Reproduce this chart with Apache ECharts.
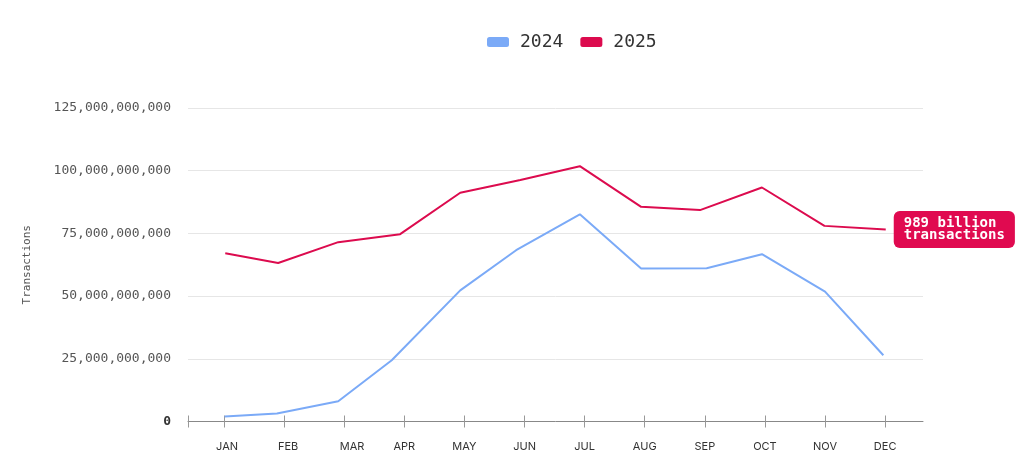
<!DOCTYPE html>
<html>
<head>
<meta charset="utf-8">
<script src="https://cdn.jsdelivr.net/npm/echarts@6/dist/echarts.min.js"></script>
<style>html,body{margin:0;padding:0;background:#fff;}#c{width:1021px;height:461px;}</style>
</head>
<body>
<div id="c"></div>
<script>
const months = ['JAN','FEB','MAR','APR','MAY','JUN','JUL','AUG','SEP','OCT','NOV','DEC'];
// x positions (month index, fractional)
const x2024 = [0.01, 0.88, 1.90, 2.79, 3.93, 4.86, 5.92, 6.94, 8.03, 8.95, 10.00, 10.97];
const x2025 = [0.02, 0.90, 1.90, 2.93, 3.93, 4.93, 5.92, 6.94, 7.92, 8.95, 9.99, 11.01];
const v2024 = [2.0e9, 3.2e9, 8.1e9, 24.4e9, 52.3e9, 68.3e9, 82.6e9, 61.0e9, 61.1e9, 66.7e9, 51.8e9, 26.4e9];
const v2025 = [67.1e9, 63.2e9, 71.5e9, 74.7e9, 91.2e9, 96.3e9, 101.8e9, 85.6e9, 84.3e9, 93.3e9, 78.0e9, 76.6e9];
const yTicks = [0, 25e9, 50e9, 75e9, 100e9, 125e9];
const labelPos = [0.05, 1.065, 2.13, 3, 4, 5, 6, 7, 8, 9, 10, 11];
const tickPos = [-0.6, 0, 1, 2, 3, 4, 5, 6, 7, 8, 9, 10, 11];
const endText = '989 billion\ntransactions';

const mono = '"DejaVu Sans Mono", "Liberation Mono", monospace';
const BLUE = '#7BAAF7', RED = '#DC0B4E';

const chart = echarts.init(document.getElementById('c'));
const fmt = v => v.toLocaleString('en-US');
chart.setOption({
  animation: false,
  legend: {
    top: 28, left: 482,
    icon: 'roundRect', itemWidth: 22, itemHeight: 10, itemGap: 17,
    textStyle: { fontFamily: mono, fontSize: 18, color: '#333', padding: [0, 0, 0, 6] },
    data: ['2024', '2025']
  },
  grid: { left: 188, right: 98, top: 108, bottom: 39.5, containLabel: false },
  xAxis: [{
    type: 'value', min: -0.6, max: 11.63,
    splitLine: { show: false },
    axisLine: { show: true, lineStyle: { color: '#888', width: 1 } },
    axisTick: { show: true, length: 6, customValues: tickPos, lineStyle: { color: '#999' } },
    axisLabel: {
      customValues: labelPos, margin: 20,
      formatter: v => months[Math.round(v)],
      fontFamily: 'Inter, Roboto, sans-serif', fontSize: 11, color: '#333'
    }
  }, {
    type: 'value', min: -0.6, max: 11.63, position: 'bottom',
    splitLine: { show: false },
    axisLine: { show: false },
    axisTick: { show: true, inside: true, length: 6, customValues: tickPos, lineStyle: { color: '#999' } },
    axisLabel: { show: false }
  }],
  yAxis: {
    type: 'value', min: 0, max: 125e9, interval: 25e9,
    name: 'Transactions', nameLocation: 'middle', nameGap: 155, nameRotate: 90,
    nameTextStyle: { fontFamily: mono, fontSize: 11, color: '#555' },
    axisLine: { show: false }, axisTick: { show: false },
    splitLine: { lineStyle: { color: '#e6e6e6', width: 1 } },
    axisLabel: {
      margin: 17, fontFamily: mono, fontSize: 13, color: '#555',
      formatter: v => v === 0 ? '{z|0}' : fmt(v),
      rich: { z: { fontFamily: mono, fontSize: 13, fontWeight: 'bold', color: '#333' } }
    }
  },
  series: [{
    name: '2024', type: 'line', showSymbol: false, symbol: 'none',
    color: BLUE, lineStyle: { width: 2, color: BLUE },
    data: v2024.map((v, i) => [x2024[i], v])
  }, {
    name: '2025', type: 'line', showSymbol: false, symbol: 'none',
    color: RED, lineStyle: { width: 2, color: RED },
    data: v2025.map((v, i) => [x2025[i], v]),
    endLabel: {
      show: true, formatter: endText, distance: 8,
      backgroundColor: '#E00A50', borderRadius: 6, padding: [6, 10, 6, 10],
      color: '#fff', fontFamily: mono, fontWeight: 'bold', fontSize: 14, lineHeight: 12.5,
      align: 'left'
    }
  }]
});
</script>
</body>
</html>
